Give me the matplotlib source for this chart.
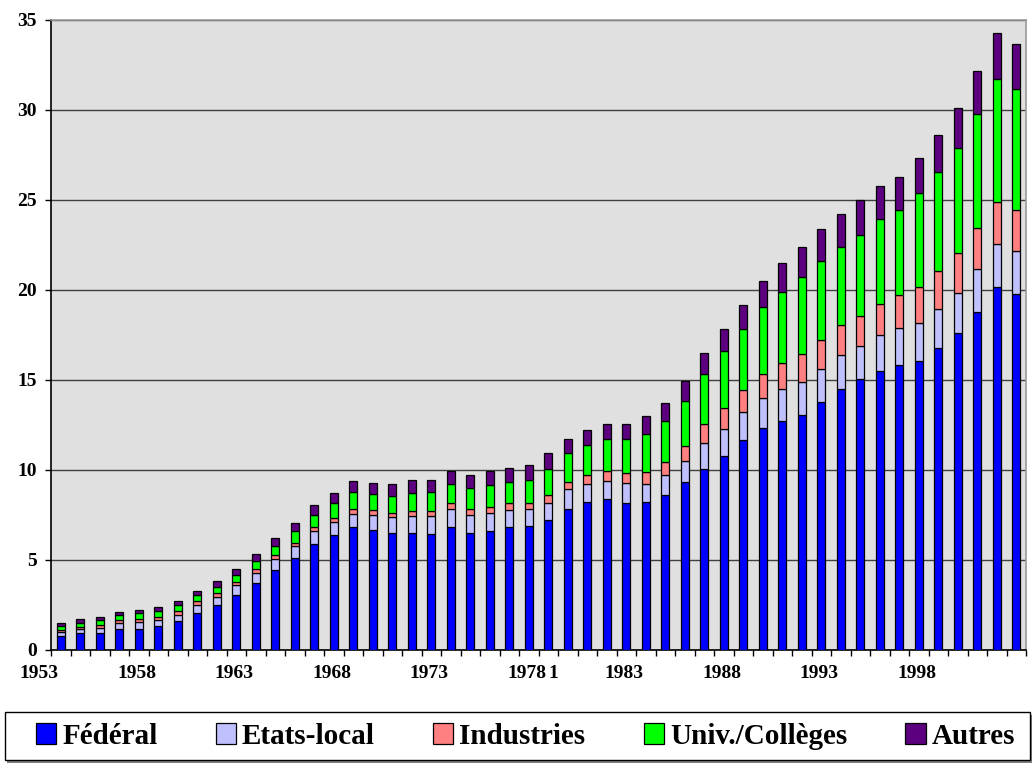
import matplotlib
matplotlib.use("Agg")
import matplotlib.pyplot as plt
from matplotlib.patches import Rectangle
import numpy as np

# annees 1953 -> 2002
years = list(range(1953, 2003))

federal = [0.78, 0.93, 0.96, 1.19, 1.19, 1.33, 1.59, 2.07, 2.52, 3.07,
           3.74, 4.44, 5.11, 5.89, 6.37, 6.83, 6.67, 6.48, 6.48, 6.44,
           6.81, 6.52, 6.63, 6.81, 6.87, 7.22, 7.85, 8.24, 8.37, 8.19,
           8.20, 8.61, 9.33, 10.07, 10.78, 11.67, 12.33, 12.74, 13.04, 13.78,
           14.52, 15.04, 15.52, 15.81, 16.07, 16.78, 17.59, 18.78, 20.15, 19.78]
etats_local = [0.22, 0.22, 0.26, 0.29, 0.37, 0.34, 0.37, 0.41, 0.44, 0.52,
               0.56, 0.63, 0.67, 0.70, 0.74, 0.74, 0.81, 0.89, 0.96, 1.00,
               1.02, 1.00, 1.00, 0.97, 0.94, 0.97, 1.08, 0.98, 1.00, 1.07,
               1.04, 1.09, 1.19, 1.41, 1.52, 1.55, 1.65, 1.74, 1.85, 1.85,
               1.89, 1.85, 1.96, 2.08, 2.12, 2.18, 2.22, 2.37, 2.41, 2.41]
industries = [0.11, 0.11, 0.15, 0.19, 0.18, 0.18, 0.19, 0.22, 0.23, 0.19,
              0.22, 0.19, 0.18, 0.22, 0.22, 0.28, 0.28, 0.22, 0.26, 0.26,
              0.32, 0.29, 0.30, 0.37, 0.34, 0.40, 0.40, 0.48, 0.56, 0.55,
              0.63, 0.76, 0.81, 1.08, 1.14, 1.22, 1.35, 1.48, 1.55, 1.59,
              1.65, 1.67, 1.74, 1.81, 2.00, 2.11, 2.23, 2.28, 2.31, 2.26]
univ = [0.22, 0.26, 0.30, 0.26, 0.30, 0.34, 0.33, 0.34, 0.33, 0.37,
        0.41, 0.52, 0.63, 0.67, 0.86, 0.95, 0.92, 0.98, 1.02, 1.06,
        1.07, 1.19, 1.22, 1.18, 1.29, 1.48, 1.60, 1.67, 1.81, 1.89,
        2.15, 2.26, 2.52, 2.77, 3.15, 3.37, 3.71, 3.93, 4.26, 4.41,
        4.33, 4.52, 4.70, 4.72, 5.21, 5.47, 5.87, 6.33, 6.83, 6.70]
autres = [0.19, 0.18, 0.14, 0.18, 0.18, 0.22, 0.26, 0.26, 0.33, 0.37,
          0.40, 0.44, 0.48, 0.56, 0.55, 0.59, 0.62, 0.65, 0.71, 0.70,
          0.71, 0.70, 0.78, 0.78, 0.82, 0.89, 0.81, 0.85, 0.82, 0.86,
          0.96, 1.00, 1.11, 1.15, 1.26, 1.34, 1.48, 1.63, 1.71, 1.74,
          1.81, 1.90, 1.88, 1.88, 1.91, 2.09, 2.18, 2.43, 2.58, 2.52]

series_names = ["Fédéral", "Etats-local", "Industries", "Univ./Collèges", "Autres"]
series_colors = ["#0000FF", "#C0C0FF", "#FF8080", "#00FF00", "#5C0080"]

tick_years = [1953, 1958, 1963, 1968, 1973, 1978, 1983, 1988, 1993, 1998]
tick_texts = ["1953", "1958", "1963", "1968", "1973", "1978 1", "1983", "1988", "1993", "1998"]

plt.rcParams['font.family'] = ['Liberation Serif', 'DejaVu Serif']
plt.rcParams['font.weight'] = 'bold'

W, H = 1033, 765
fig = plt.figure(figsize=(W / 100, H / 100), dpi=100)
ax = fig.add_axes([51 / W, 1 - 650 / H, 975 / W, 630 / H])
ax.set_facecolor("#E0E0E0")

x = np.arange(len(years))
bottom = np.zeros(len(years))
handles = []
for name, vals, col in zip(series_names, [federal, etats_local, industries, univ, autres], series_colors):
    b = ax.bar(x, vals, width=0.42, bottom=bottom, color=col, edgecolor="black",
               linewidth=0.9, label=name, zorder=3)
    handles.append(b)
    bottom = bottom + np.array(vals)

ax.set_xlim(-0.5, len(years) - 0.5)
ax.set_ylim(0, 35)
ax.set_yticks(np.arange(0, 36, 5))
ax.yaxis.grid(True, color="#404040", linewidth=1.0, zorder=1)
ax.set_axisbelow(True)

# ticks between categories, no labels
ax.set_xticks(np.arange(-0.5, len(years), 1.0))
ax.set_xticklabels([])
ax.tick_params(axis="x", direction="out", length=4, width=1, color="black")
ax.tick_params(axis="y", direction="out", length=4, width=1, color="black",
               labelsize=14, pad=6)
for lab in ax.get_yticklabels():
    lab.set_fontweight("bold")

# year labels sit slightly left of their bar (as in the original)
for yr, txt in zip(tick_years, tick_texts):
    pos = years.index(yr) - 1.1
    ax.text(pos, -0.038, txt.split(" ")[0], transform=ax.get_xaxis_transform(),
            ha="center", va="center", fontsize=14, fontweight="bold", clip_on=False)
    if " " in txt:
        ax.text(pos + 1.12, -0.038, txt.split(" ")[1], transform=ax.get_xaxis_transform(),
                ha="left", va="center", fontsize=14, fontweight="bold", clip_on=False)

for side in ["top", "right"]:
    ax.spines[side].set_color("#999999")
    ax.spines[side].set_linewidth(1.2)
for side in ["left", "bottom"]:
    ax.spines[side].set_color("black")
    ax.spines[side].set_linewidth(1.2)

# legend box (frame + shadow drawn separately)
fig.patches.append(Rectangle((7 / W, 1 - 763 / H), 1025 / W, 48 / H, transform=fig.transFigure,
                             facecolor="#808080", edgecolor="none", zorder=0))
fig.patches.append(Rectangle((5 / W, 1 - 760 / H), 1025 / W, 48 / H, transform=fig.transFigure,
                             facecolor="white", edgecolor="black", linewidth=1.0, zorder=1))
leg = fig.legend(handles=handles, loc="center", ncol=5, mode="expand",
                 bbox_to_anchor=(30 / W, 1 - 758 / H, 991 / W, 44 / H),
                 borderaxespad=0, frameon=False,
                 prop={"family": "Liberation Serif", "weight": "bold", "size": 21},
                 handlelength=0.7, handleheight=0.7, handletextpad=0.2, borderpad=0.2)

fig.savefig("out.png", dpi=100)
